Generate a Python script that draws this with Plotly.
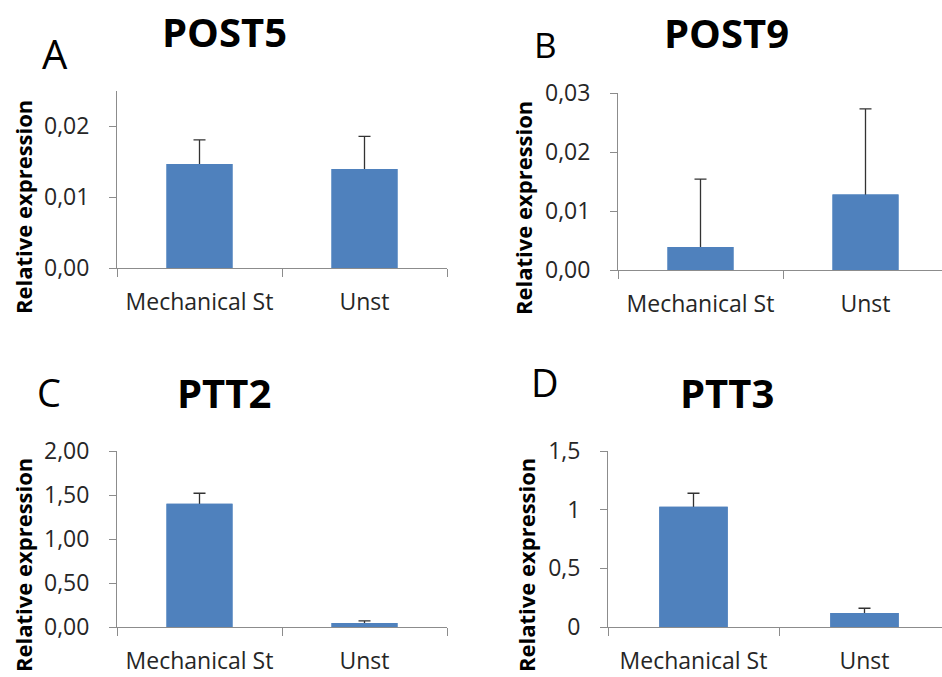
import plotly.graph_objects as go

# Relative expression of four genes, stretched vs unstretched (mean ± SD)
categories = ["Mechanical St", "Unst"]

post5 = [0.0147, 0.0140]
post5_err = [0.0034, 0.0046]

post9 = [0.0039, 0.0128]
post9_err = [0.0115, 0.0145]

ptt2 = [1.40, 0.045]
ptt2_err = [0.12, 0.025]

ptt3 = [1.025, 0.12]
ptt3_err = [0.115, 0.04]

titles = ["POST5", "POST9", "PTT2", "PTT3"]
letters = ["A", "B", "C", "D"]

W, H = 942, 677
BAR = "#4F81BD"
AXIS = "#8C8C8C"
TXT = "#262626"
FONT = "Open Sans"


def px(x):
    return x / W


def py(y):
    return 1 - y / H


panels = [
    # values, errors, x-domain px, x-range, y-domain px (bottom, top), y-range, dtick, format
    dict(v=post5, e=post5_err, xd=(117, 447), xr=[-0.5, 1.5], yd=(268, 91), yr=[0, 0.025], dt=0.01, fmt=".2f"),
    dict(v=post9, e=post9_err, xd=(618, 942), xr=[-0.5, 1.5 - 6 / 165], yd=(270, 93), yr=[0, 0.03], dt=0.01, fmt=".2f"),
    dict(v=ptt2, e=ptt2_err, xd=(117, 447), xr=[-0.5, 1.5], yd=(627, 451), yr=[0, 2.0], dt=0.5, fmt=".2f"),
    dict(v=ptt3, e=ptt3_err, xd=(608, 942), xr=[-0.5, 1.5 - 8 / 171], yd=(627, 451), yr=[0, 1.5], dt=0.5, fmt=""),
]

fig = go.Figure()
layout = {}
for i, p in enumerate(panels, start=1):
    sx = "" if i == 1 else str(i)
    # bars with ±SD error bars
    fig.add_trace(go.Bar(
        x=categories, y=p["v"],
        xaxis="x" + sx, yaxis="y" + sx,
        marker=dict(color=BAR, line=dict(width=0)),
        width=0.4,
        error_y=dict(type="data", symmetric=True, array=p["e"],
                     color="#333333", thickness=1.3, width=6),
        showlegend=False, hoverinfo="skip",
    ))
    # the same bars drawn on top, so only the upper arm of each error bar shows
    fig.add_trace(go.Bar(
        x=categories, y=p["v"],
        xaxis="x" + sx, yaxis="y" + sx,
        marker=dict(color=BAR, line=dict(width=0)),
        width=0.4, showlegend=False, hoverinfo="skip",
    ))
    layout["xaxis" + sx] = dict(
        domain=[px(p["xd"][0]), px(p["xd"][1])], range=p["xr"],
        anchor="y" + sx, type="category", showline=True, linecolor=AXIS, linewidth=1,
        ticks="outside", tickson="boundaries", ticklen=8, tickcolor=AXIS, tickwidth=1,
        showgrid=False, zeroline=False, automargin=False,
        tickfont=dict(family=FONT, size=23, color=TXT), ticklabelstandoff=13,
    )
    layout["yaxis" + sx] = dict(
        domain=[py(p["yd"][0]), py(p["yd"][1])], range=p["yr"],
        anchor="x" + sx, showline=True, linecolor=AXIS, linewidth=1,
        ticks="outside", ticklen=7, tickcolor=AXIS, tickwidth=1,
        showgrid=False, zeroline=False, dtick=p["dt"], tick0=0, tickformat=p["fmt"],
        automargin=False,
        tickfont=dict(family=FONT, size=23, color=TXT), ticklabelstandoff=15,
    )

annotations = []
# panel titles
for t, (x, y) in zip(titles, [(224, 32), (726, 33), (224, 392), (727, 392)]):
    annotations.append(dict(text="<b>%s</b>" % t, x=px(x), y=py(y), xref="paper", yref="paper",
                            xanchor="center", yanchor="middle", showarrow=False,
                            font=dict(family=FONT, size=40, color="black")))
# panel letters
for t, (x, y, s) in zip(letters, [(55, 53, 40), (545, 45, 35), (49, 392, 38), (545, 382, 38)]):
    annotations.append(dict(text=t, x=px(x), y=py(y), xref="paper", yref="paper",
                            xanchor="center", yanchor="middle", showarrow=False,
                            font=dict(family=FONT, size=s, color="black")))
# y-axis titles
for (x, y) in [(23, 207), (523, 208), (23, 565), (526, 565)]:
    annotations.append(dict(text="<b>Relative expression</b>", x=px(x), y=py(y), xref="paper", yref="paper",
                            xanchor="center", yanchor="middle", showarrow=False, textangle=-90,
                            font=dict(family=FONT, size=22, color="black")))

fig.update_layout(
    width=W, height=H, margin=dict(l=0, r=0, t=0, b=0, autoexpand=False),
    paper_bgcolor="white", plot_bgcolor="white",
    separators=",.", barmode="overlay",
    annotations=annotations, **layout,
)

fig.write_html("out.html")
